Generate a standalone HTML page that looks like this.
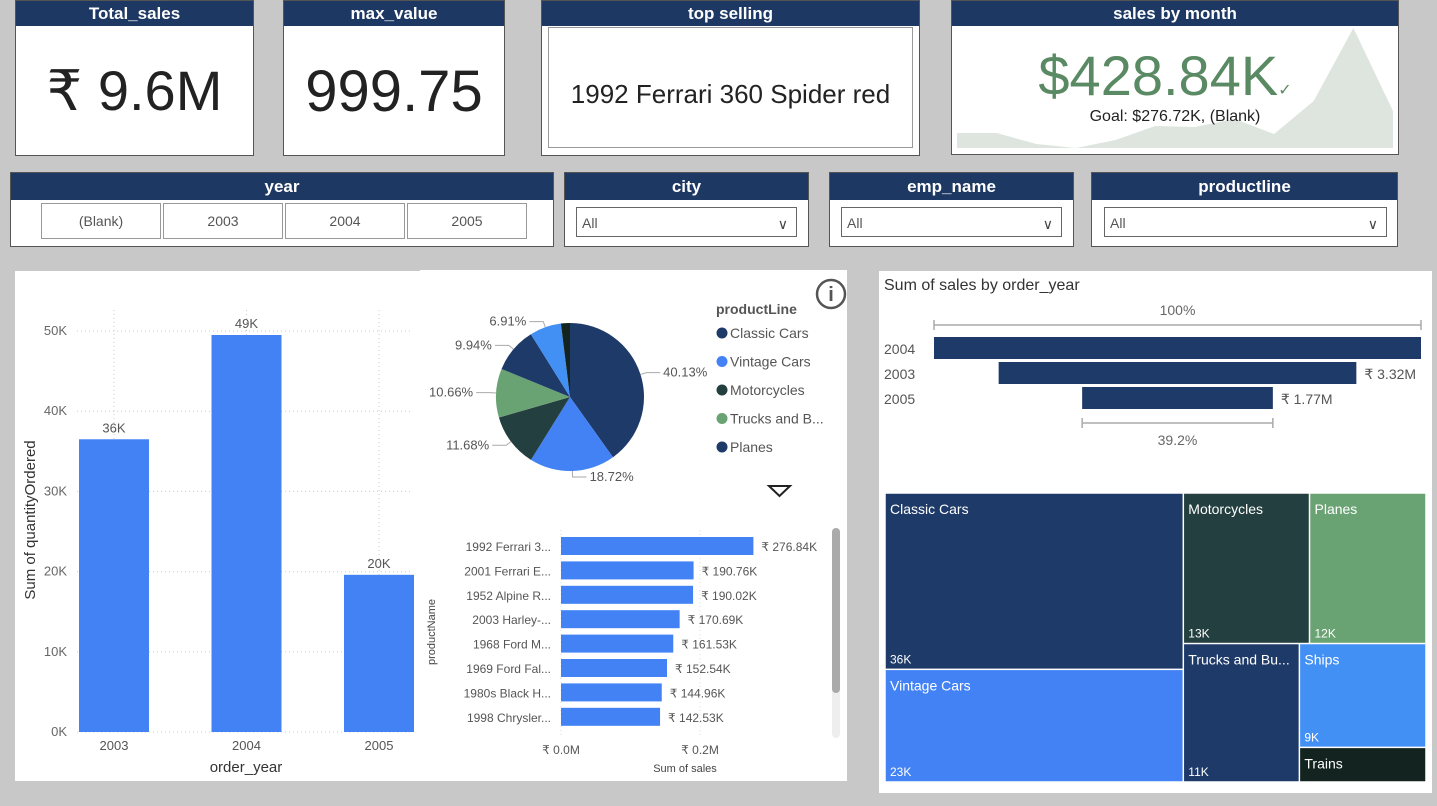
<!DOCTYPE html>
<html><head><meta charset="utf-8">
<style>
body{margin:0;width:1437px;height:806px;background:#c8c8c8;font-family:"Liberation Sans","DejaVu Sans",sans-serif;overflow:hidden;position:relative}
.box{position:absolute;background:#fff;box-sizing:border-box}
.card{border:1px solid #555}
.hdr{position:absolute;left:0;right:0;top:0;background:#1e3864;color:#fff;font-weight:bold;text-align:center;font-size:17px;line-height:25px}
.big{position:absolute;left:0;right:0;text-align:center;color:#222}
.drop{position:absolute;top:34px;height:30px;border:1px solid #666;box-sizing:border-box;font-size:14px;color:#555;line-height:30px;padding-left:5px;background:#fff}
.drop span{position:absolute;right:8px;top:1px;font-size:14px;color:#444}
.yb{position:absolute;top:30px;height:36px;width:120px;border:1px solid #999;box-sizing:border-box;text-align:center;line-height:34px;font-size:14px;color:#555}
svg text{font-family:"Liberation Sans","DejaVu Sans",sans-serif}
</style></head><body>
<div class="box card" style="left:15px;top:0;width:239px;height:156px"><div class="hdr">Total_sales</div><div class="big" style="top:57px;font-size:56px">₹ 9.6M</div></div>
<div class="box card" style="left:283px;top:0;width:222px;height:156px"><div class="hdr">max_value</div><div class="big" style="top:57px;font-size:58px">999.75</div></div>
<div class="box card" style="left:541px;top:0;width:379px;height:156px"><div class="hdr">top selling</div>
<div style="position:absolute;left:6px;top:26px;width:365px;height:121px;border:1px solid #999;box-sizing:border-box"></div>
<div class="big" style="top:78px;font-size:26px">1992 Ferrari 360 Spider red</div></div>
<div class="box card" style="left:951px;top:0;width:448px;height:155px"><div class="hdr">sales by month</div>
<svg id="spark" width="448" height="155" style="position:absolute;left:0;top:0"></svg>
<div class="big" style="top:42px;font-size:56px;color:#5a8a63;left:-20px">$428.84K<span style="font-size:16px">✓</span></div>
<div class="big" style="top:107px;font-size:16px">Goal: $276.72K, (Blank)</div></div>
<div class="box card" style="left:10px;top:172px;width:544px;height:75px"><div class="hdr" style="line-height:27px">year</div>
<div class="yb" style="left:30px">(Blank)</div>
<div class="yb" style="left:152px">2003</div>
<div class="yb" style="left:274px">2004</div>
<div class="yb" style="left:396px">2005</div></div>
<div class="box card" style="left:564px;top:172px;width:245px;height:75px"><div class="hdr" style="line-height:27px">city</div><div class="drop" style="left:11px;width:221px">All<span>∨</span></div></div>
<div class="box card" style="left:829px;top:172px;width:245px;height:75px"><div class="hdr" style="line-height:27px">emp_name</div><div class="drop" style="left:11px;width:221px">All<span>∨</span></div></div>
<div class="box card" style="left:1091px;top:172px;width:307px;height:75px"><div class="hdr" style="line-height:27px">productline</div><div class="drop" style="left:12px;width:283px">All<span>∨</span></div></div>
<div class="box" style="left:15px;top:271px;width:406px;height:510px"></div>
<div class="box" style="left:420px;top:270px;width:427px;height:511px"></div>
<div class="box" style="left:879px;top:271px;width:553px;height:522px"></div>
<svg id="main" width="1437" height="806" style="position:absolute;left:0;top:0"></svg>
<script>
const sparkVals=[15,15,4,0,8,22,21,29,14,47,120,37];
const years=['2003','2004','2005'];
const qty=[36.5,49.5,19.6];
const qtyLabels=['36K','49K','20K'];
const yTicks=[0,10,20,30,40,50];
const pieNames=['Classic Cars','Vintage Cars','Motorcycles','Trucks and Buses','Planes','Ships','Trains'];
const piePct=[40.13,18.72,11.68,10.66,9.94,6.91,1.96];
const pieColors=['#1e3a68','#4282f5','#243f3f','#6aa373','#1e3a68','#4390f5','#122320'];
const prodNames=['1992 Ferrari 3...','2001 Ferrari E...','1952 Alpine R...','2003 Harley-...','1968 Ford M...','1969 Ford Fal...','1980s Black H...','1998 Chrysler...'];
const prodSales=[276.84,190.76,190.02,170.69,161.53,152.54,144.96,142.53];
const funYears=['2004','2003','2005'];
const funSales=[4.52,3.32,1.77];
const tmNames=['Classic Cars','Vintage Cars','Motorcycles','Planes','Trucks and Bu...','Ships','Trains'];
const tmVals=[36,23,13,12,11,9,3];
const tmLabels=['36K','23K','13K','12K','11K','9K',''];
const tmColors=['#1e3a68','#4282f5','#243f3f','#6aa373','#1e3a68','#4390f5','#122320'];

const NS='http://www.w3.org/2000/svg';
function mk(p,tag,at,txt){const e=document.createElementNS(NS,tag);for(const k in at)e.setAttribute(k,at[k]);if(txt!==undefined)e.textContent=txt;p.appendChild(e);return e;}
const S=document.getElementById('main');

(function(){const sp=document.getElementById('spark');const x0=5,x1=441,base=147,max=120,top=27;
let d='M'+x0+','+base;sparkVals.forEach((v,i)=>{const x=x0+i*(x1-x0)/(sparkVals.length-1);const y=base-v/max*(base-top);d+=' L'+x+','+y;});d+=' L'+x1+','+base+' Z';
const p=mk(sp,'path',{d:d,fill:'#dde5de'});

})();

(function(){const y0=732,y50=331;const ys=v=>y0-v/50*(y0-y50);const xs=i=>114+i*132.5;
yTicks.forEach(t=>{const y=ys(t);const l=mk(S,'line',{x1:77,x2:413,y1:y,y2:y,stroke:'#ccc','stroke-dasharray':'1,3'});


const tx=mk(S,'text',{x:67,y:y+4,'text-anchor':'end','font-size':13,fill:'#666'},t+'K');

});
years.forEach((yr,i)=>{mk(S,'line',{x1:xs(i),x2:xs(i),y1:310,y2:y0,stroke:'#ccc','stroke-dasharray':'1,3'});
const r=mk(S,'rect',{x:xs(i)-35,y:ys(qty[i]),width:70,height:y0-ys(qty[i]),fill:'#4282f5'});


const lb=mk(S,'text',{x:xs(i),y:ys(qty[i])-7,'text-anchor':'middle','font-size':13,fill:'#555'},qtyLabels[i]);


const xl=mk(S,'text',{x:xs(i),y:750,'text-anchor':'middle','font-size':13,fill:'#555'},yr);

});
const xt=mk(S,'text',{x:246,y:772,'text-anchor':'middle','font-size':15,fill:'#333'},'order_year');


const yt=mk(S,'text',{x:0,y:0,'text-anchor':'middle','font-size':15,fill:'#333',transform:'translate(35,520) rotate(-90)'},'Sum of quantityOrdered');

})();

(function(){const cx=570,cy=397,r=74;let a=0;const tot=piePct.reduce((s,v)=>s+v,0);
piePct.forEach((p,i)=>{const a1=a+p/tot*2*Math.PI;const pt=t=>[cx+r*Math.sin(t),cy-r*Math.cos(t)];const [x0,y0]=pt(a),[x1,y1]=pt(a1);
const s=mk(S,'path',{d:`M${cx},${cy} L${x0},${y0} A${r},${r} 0 ${a1-a>Math.PI?1:0} 1 ${x1},${y1} Z`,fill:pieColors[i]});


if(p>5){const m=(a+a1)/2;const [ex,ey]=[cx+(r+6)*Math.sin(m),cy-(r+6)*Math.cos(m)];const right=Math.sin(m)>0;const lx=ex+(right?14:-14);
mk(S,'polyline',{points:`${cx+r*Math.sin(m)},${cy-r*Math.cos(m)} ${ex},${ey} ${lx},${ey}`,fill:'none',stroke:'#aaa'});
const t=mk(S,'text',{x:lx+(right?3:-3),y:ey+4,'text-anchor':right?'start':'end','font-size':13,fill:'#555'},p.toFixed(2)+'%');

}
a=a1;});
const lt=mk(S,'text',{x:716,y:314,'font-size':14,'font-weight':'bold',fill:'#555'},'productLine');


const legN=['Classic Cars','Vintage Cars','Motorcycles','Trucks and B...','Planes'];
legN.forEach((n,i)=>{const y=333+i*28.5;mk(S,'circle',{cx:722,cy:y,r:5.5,fill:pieColors[i]});
const t=mk(S,'text',{x:730,y:y+5,'font-size':14,fill:'#555'},n);

});
mk(S,'circle',{cx:831,cy:294,r:14,fill:'#fff',stroke:'#555','stroke-width':2.5});
mk(S,'text',{x:831,y:301,'text-anchor':'middle','font-size':20,'font-weight':'bold',fill:'#555'},'i');
const tri=mk(S,'path',{d:'M769,486 L790,486 L779.5,496 Z',fill:'#fff',stroke:'#222','stroke-width':2});

})();

(function(){const x0=561,k=695/1000;
[0,200].forEach(v=>{const x=x0+v*k;mk(S,'line',{x1:x,x2:x,y1:530,y2:735,stroke:'#ddd','stroke-dasharray':'1,3'});
const t=mk(S,'text',{x:x,y:754,'text-anchor':'middle','font-size':12,fill:'#555'},'₹ '+(v/1000).toFixed(1)+'M');

});
prodNames.forEach((n,i)=>{const y=537+i*24.4;const w=prodSales[i]*k;
const r=mk(S,'rect',{x:x0,y:y,width:w,height:18,fill:'#4282f5'});


const t=mk(S,'text',{x:551,y:y+14,'text-anchor':'end','font-size':12,fill:'#555'},n);


const v=mk(S,'text',{x:x0+w+8,y:y+14,'font-size':12,fill:'#555'},'₹ '+prodSales[i].toFixed(2)+'K');

});
const xt=mk(S,'text',{x:685,y:772,'text-anchor':'middle','font-size':11,fill:'#444'},'Sum of sales');


const yt=mk(S,'text',{x:0,y:0,'text-anchor':'middle','font-size':11,fill:'#444',transform:'translate(435,632) rotate(-90)'},'productName');


mk(S,'rect',{x:832,y:528,width:8,height:210,rx:4,fill:'#eee'});
mk(S,'rect',{x:832,y:528,width:8,height:165,rx:4,fill:'#aaa'});})();

(function(){const L=934,R=1421,mid=(L+R)/2,maxV=funSales[0];const wf=v=>v/maxV*(R-L);
const tt=mk(S,'text',{x:884,y:290,'font-size':16,fill:'#333'},'Sum of sales by order_year');


funYears.forEach((yr,i)=>{const y=337+i*25,w=wf(funSales[i]);
const r=mk(S,'rect',{x:mid-w/2,y:y,width:w,height:22,fill:'#1e3a68'});


mk(S,'text',{x:884,y:y+17,'font-size':14,fill:'#555'},yr);
if(i>0)mk(S,'text',{x:mid+w/2+8,y:y+17,'font-size':14,fill:'#555'},'₹ '+funSales[i].toFixed(2)+'M');});
const wl=wf(funSales[2]);
[[L,R,325,'100%',315],[mid-wl/2,mid+wl/2,423,(funSales[2]/maxV*100).toFixed(1)+'%',445]].forEach(b=>{
mk(S,'path',{d:`M${b[0]},${b[2]-5} V${b[2]+5} M${b[0]},${b[2]} H${b[1]} M${b[1]},${b[2]-5} V${b[2]+5}`,stroke:'#aaa',fill:'none','stroke-width':1.5});
mk(S,'text',{x:mid,y:b[4],'text-anchor':'middle','font-size':14,fill:'#666'},b[3]);});})();

(function(){const X=885,Y=493,W=541,H=289,g=1.5;const v=tmVals;const tot=v.reduce((a,b)=>a+b,0);
const rects=[];const c1=(v[0]+v[1])/tot*W;const h0=v[0]/(v[0]+v[1])*H;
rects.push([X,Y,c1,h0],[X,Y+h0,c1,H-h0]);
const rx=X+c1,rw=W-c1,rest=tot-v[0]-v[1];const th=(v[2]+v[3])/rest*H;const mw=v[2]/(v[2]+v[3])*rw;
rects.push([rx,Y,mw,th],[rx+mw,Y,rw-mw,th]);
const bh=H-th,tw=v[4]/(v[4]+v[5]+v[6])*rw;const sh=v[5]/(v[5]+v[6])*bh;
rects.push([rx,Y+th,tw,bh],[rx+tw,Y+th,rw-tw,sh],[rx+tw,Y+th+sh,rw-tw,bh-sh]);
rects.forEach((r,i)=>{const e=mk(S,'rect',{x:r[0]+g/2,y:r[1]+g/2,width:r[2]-g,height:r[3]-g,fill:tmColors[i]});


mk(S,'text',{x:r[0]+5,y:r[1]+21,'font-size':14,fill:'#fff'},tmNames[i]);
if(tmLabels[i])mk(S,'text',{x:r[0]+5,y:r[1]+r[3]-6,'font-size':12,fill:'#fff'},tmLabels[i]);});})();
</script>
</body></html>
